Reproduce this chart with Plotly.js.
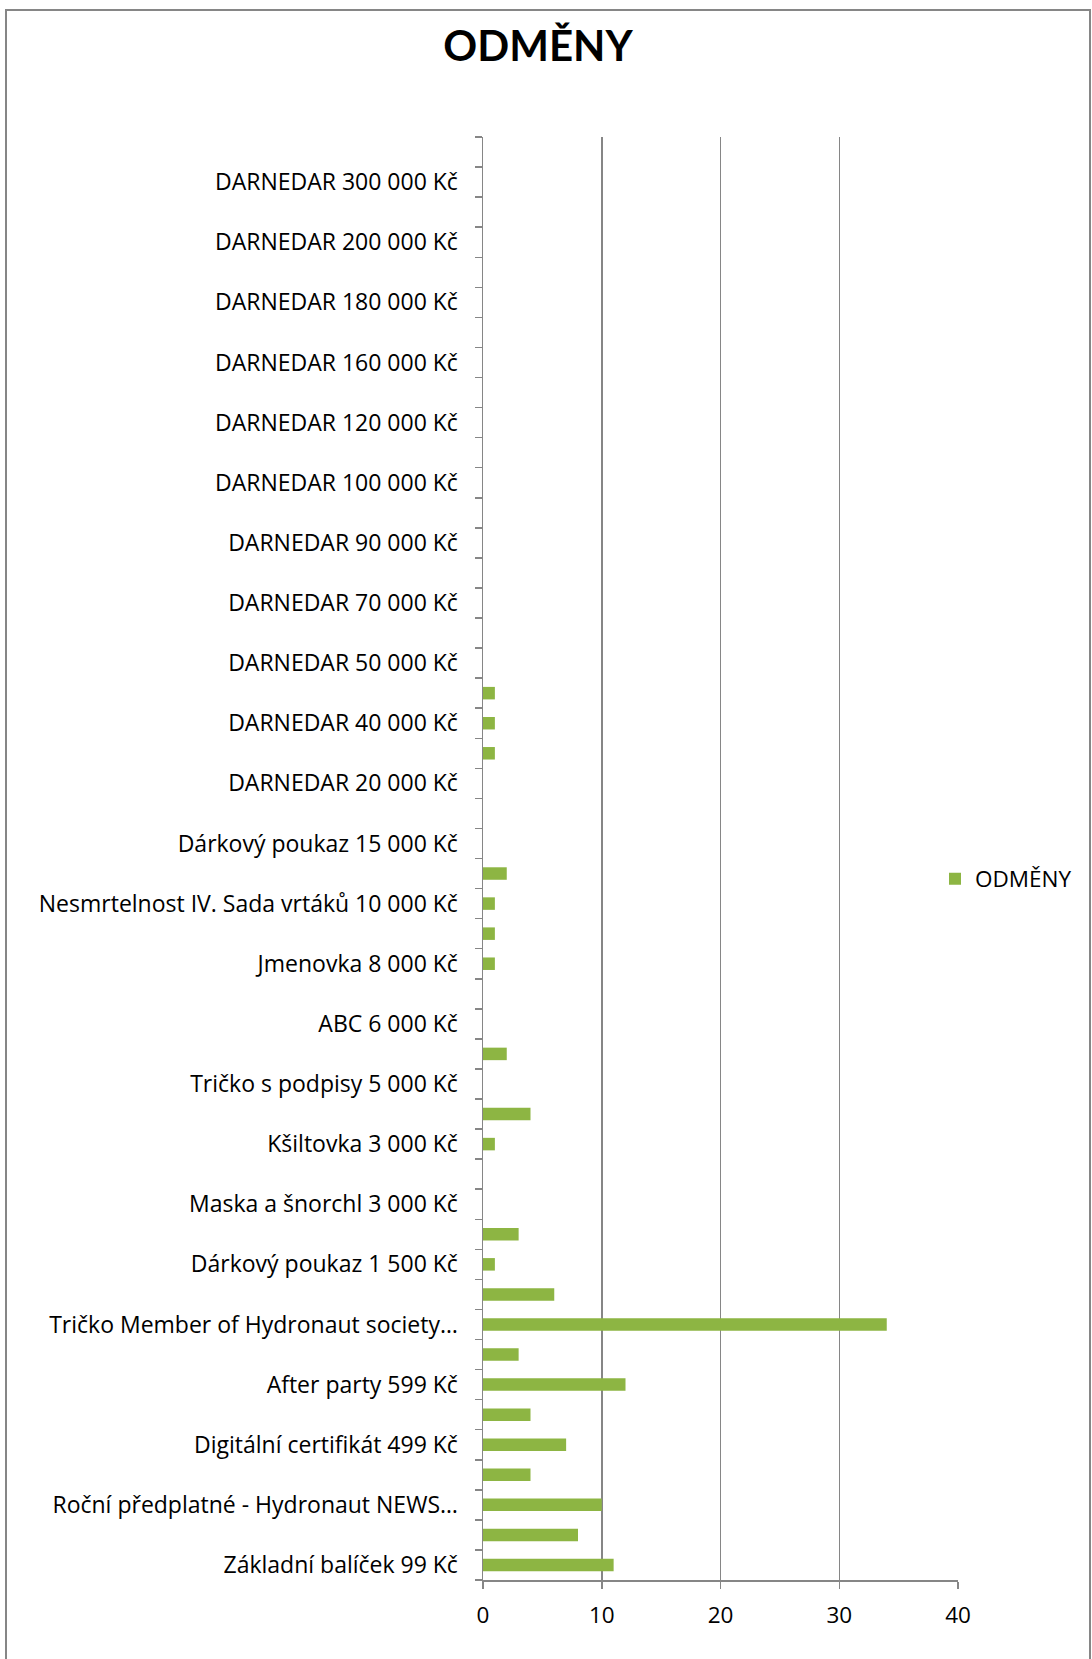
<!DOCTYPE html>
<html>
<head>
<meta charset="utf-8">
<script src="https://cdn.plot.ly/plotly-3.0.1.min.js"></script>
<style>
  html, body { margin: 0; padding: 0; background: #ffffff; }
  #chart { width: 1092px; height: 1659px; }
</style>
</head>
<body>
<div id="chart"></div>
<script>
// Categories from bottom to top (every other one is labelled in the original chart)
var categories = [
  "Základní balíček 99 Kč", "Odměna 2",
  "Roční předplatné - Hydronaut NEWS…", "Odměna 4",
  "Digitální certifikát 499 Kč", "Odměna 6",
  "After party 599 Kč", "Odměna 8",
  "Tričko Member of Hydronaut society…", "Odměna 10",
  "Dárkový poukaz 1 500 Kč", "Odměna 12",
  "Maska a šnorchl 3 000 Kč", "Odměna 14",
  "Kšiltovka 3 000 Kč", "Odměna 16",
  "Tričko s podpisy 5 000 Kč", "Odměna 18",
  "ABC 6 000 Kč", "Odměna 20",
  "Jmenovka 8 000 Kč", "Odměna 22",
  "Nesmrtelnost IV. Sada vrtáků 10 000 Kč", "Odměna 24",
  "Dárkový poukaz 15 000 Kč", "Odměna 26",
  "DARNEDAR 20 000 Kč", "Odměna 28",
  "DARNEDAR 40 000 Kč", "Odměna 30",
  "DARNEDAR 50 000 Kč", "Odměna 32",
  "DARNEDAR 70 000 Kč", "Odměna 34",
  "DARNEDAR 90 000 Kč", "Odměna 36",
  "DARNEDAR 100 000 Kč", "Odměna 38",
  "DARNEDAR 120 000 Kč", "Odměna 40",
  "DARNEDAR 160 000 Kč", "Odměna 42",
  "DARNEDAR 180 000 Kč", "Odměna 44",
  "DARNEDAR 200 000 Kč", "Odměna 46",
  "DARNEDAR 300 000 Kč", "Odměna 48"
];

// Tick labels shown on the axis (hidden ones are empty)
var tickLabels = [
  "Základní balíček 99 Kč", "",
  "Roční předplatné - Hydronaut NEWS…", "",
  "Digitální certifikát 499 Kč", "",
  "After party 599 Kč", "",
  "Tričko Member of Hydronaut society…", "",
  "Dárkový poukaz 1 500 Kč", "",
  "Maska a šnorchl 3 000 Kč", "",
  "Kšiltovka 3 000 Kč", "",
  "Tričko s podpisy 5 000 Kč", "",
  "ABC 6 000 Kč", "",
  "Jmenovka 8 000 Kč", "",
  "Nesmrtelnost IV. Sada vrtáků 10 000 Kč", "",
  "Dárkový poukaz 15 000 Kč", "",
  "DARNEDAR 20 000 Kč", "",
  "DARNEDAR 40 000 Kč", "",
  "DARNEDAR 50 000 Kč", "",
  "DARNEDAR 70 000 Kč", "",
  "DARNEDAR 90 000 Kč", "",
  "DARNEDAR 100 000 Kč", "",
  "DARNEDAR 120 000 Kč", "",
  "DARNEDAR 160 000 Kč", "",
  "DARNEDAR 180 000 Kč", "",
  "DARNEDAR 200 000 Kč", "",
  "DARNEDAR 300 000 Kč", ""
];

// Series values (same order as categories)
var odmeny = [
  11, 8,
  10, 4,
  7, 4,
  12, 3,
  34, 6,
  1, 3,
  0, 0,
  1, 4,
  0, 2,
  0, 0,
  1, 1,
  1, 2,
  0, 0,
  0, 1,
  1, 1,
  0, 0,
  0, 0,
  0, 0,
  0, 0,
  0, 0,
  0, 0,
  0, 0,
  0, 0,
  0, 0
];

var xTickVals = [0, 10, 20, 30, 40];

var FONT = "'Open Sans', Lato, sans-serif";
var TITLE_FONT = "Lato, 'Open Sans', sans-serif";
var AXIS = "#868686";

var trace = {
  type: "bar",
  orientation: "h",
  name: "ODMĚNY",
  x: odmeny,
  y: categories,
  marker: { color: "#8DB543", line: { width: 0 } },
  hoverinfo: "x+y"
};

var W = 1092, H = 1659;
var L = 483, R = 134, T = 137, B = 79;
var pw = W - L - R, ph = H - T - B;
function px2x(p) { return (p - L) / pw; }
function py2y(p) { return (H - B - p) / ph; }

var layout = {
  width: W,
  height: H,
  margin: { l: L, r: R, t: T, b: B, pad: 0 },
  paper_bgcolor: "#ffffff",
  plot_bgcolor: "#ffffff",
  font: { family: FONT, size: 22, color: "#000000" },
  title: {
    text: "ODMĚNY",
    font: { family: TITLE_FONT, size: 42, weight: 700, color: "#000000" },
    xref: "container", x: 538 / W, xanchor: "center",
    yref: "container", y: 1 - 46 / H, yanchor: "middle"
  },
  bargap: 0.584,
  showlegend: true,
  legend: {
    x: px2x(935), xanchor: "left",
    y: py2y(879), yanchor: "middle",
    font: { family: FONT, size: 22.5, color: "#000000" },
    bgcolor: "rgba(0,0,0,0)",
    borderwidth: 0
  },
  xaxis: {
    range: [0, 40],
    tickmode: "array",
    tickvals: xTickVals,
    ticktext: xTickVals.map(String),
    ticks: "outside",
    ticklen: 7,
    tickwidth: 1.5,
    tickcolor: AXIS,
    showline: true,
    linecolor: AXIS,
    linewidth: 1.5,
    showgrid: true,
    gridcolor: AXIS,
    gridwidth: 1.5,
    zeroline: false,
    tickfont: { family: FONT, size: 22.5, color: "#000000" },
    ticklabelstandoff: 7,
    fixedrange: true
  },
  yaxis: {
    type: "category",
    categoryorder: "array",
    categoryarray: categories,
    range: [-0.5, categories.length - 0.5],
    tickmode: "array",
    tickvals: categories,
    ticktext: tickLabels,
    tickson: "boundaries",
    ticks: "outside",
    ticklen: 7,
    tickwidth: 1.5,
    tickcolor: AXIS,
    showline: true,
    linecolor: AXIS,
    linewidth: 1.5,
    showgrid: false,
    zeroline: false,
    tickfont: { family: FONT, size: 23, color: "#000000" },
    ticklabelstandoff: 19,
    fixedrange: true
  },
  shapes: [
    {
      type: "path", xref: "paper", yref: "paper",
      path: "M " + px2x(6) + "," + py2y(1700) +
            " L " + px2x(6) + "," + py2y(10) +
            " L " + px2x(1090) + "," + py2y(10) +
            " L " + px2x(1090) + "," + py2y(1700),
      line: { color: AXIS, width: 2 },
      layer: "below"
    }
  ]
};

Plotly.newPlot("chart", [trace], layout, { displayModeBar: false, staticPlot: true });
</script>
</body>
</html>
